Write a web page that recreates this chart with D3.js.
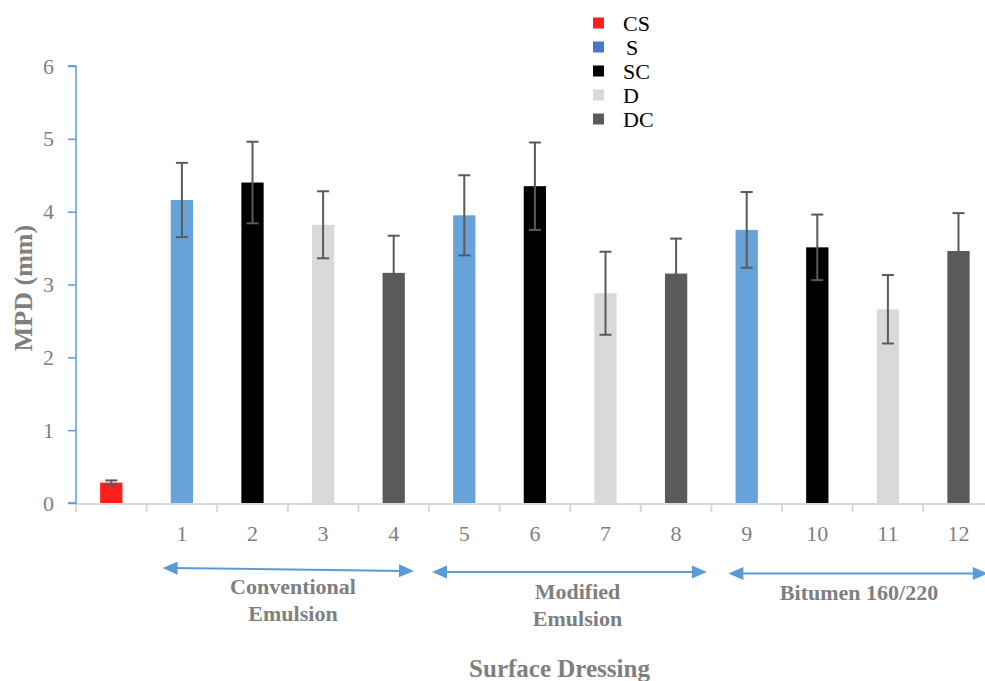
<!DOCTYPE html>
<html>
<head>
<meta charset="utf-8">
<script src="https://cdn.jsdelivr.net/npm/d3@7"></script>
<style>
  body { margin: 0; background: #fff; }
  svg { display: block; }
  svg text { font-family: "Liberation Serif", "Times New Roman", serif; }
</style>
</head>
<body>
<div id="chart"></div>
<script>
// data
const categories = ["", "1", "2", "3", "4", "5", "6", "7", "8", "9", "10", "11", "12"];
const seriesOf = ["CS", "S", "SC", "D", "DC", "S", "SC", "D", "DC", "S", "SC", "D", "DC"];
const mpd = [0.28, 4.16, 4.40, 3.82, 3.16, 3.95, 4.35, 2.88, 3.15, 3.75, 3.51, 2.66, 3.46];
const mpdErr = [0.03, 0.51, 0.56, 0.46, 0.51, 0.55, 0.60, 0.57, 0.48, 0.52, 0.45, 0.47, 0.52];
const yTicks = [0, 1, 2, 3, 4, 5, 6];
const legendKeys = ["CS", "S", "SC", "D", "DC"];
const groupLabels = [["Conventional", "Emulsion"], ["Modified", "Emulsion"], ["Bitumen 160/220"]];
const groupFrom = ["1", "5", "9"];
const groupTo = ["4", "8", "12"];

const barColor = { CS: "#fe1e1e", S: "#67a2d8", SC: "#000000", D: "#d9d9d9", DC: "#5a5a5a" };
const legendColor = { CS: "#fe1e1e", S: "#4a76c6", SC: "#000000", D: "#d9d9d9", DC: "#5a5a5a" };

const W = 985, H = 681;
const svg = d3.select("#chart").append("svg").attr("width", W).attr("height", H);

const x0 = 76, step = 70.6;
const x = d3.scaleBand().domain(categories).range([x0, x0 + step * categories.length]).paddingInner(0).paddingOuter(0);
const y = d3.scaleLinear().domain([0, 6]).range([503, 66]);
const barW = 22.3;

// x axis line + ticks at category boundaries
svg.append("line")
    .attr("x1", x0).attr("x2", W).attr("y1", y(0) + 1).attr("y2", y(0) + 1)
    .attr("stroke", "#d9d9d9").attr("stroke-width", 2);
svg.selectAll(".xtick").data(categories).enter().append("line")
    .attr("x1", d => x(d)).attr("x2", d => x(d))
    .attr("y1", y(0)).attr("y2", y(0) + 9)
    .attr("stroke", "#d9d9d9").attr("stroke-width", 2);
svg.selectAll(".xlab").data(categories).enter().append("text")
    .attr("x", d => x(d) + x.bandwidth() / 2).attr("y", 541)
    .attr("text-anchor", "middle").attr("font-size", 22).attr("fill", "#7f7f7f")
    .text(d => d);

// y axis
const yAxis = svg.append("g").attr("transform", `translate(${x0},0)`)
    .call(d3.axisLeft(y).tickValues(yTicks).tickSize(8).tickPadding(14).tickFormat(d3.format("d")));
yAxis.attr("font-family", null).attr("font-size", null);
yAxis.select(".domain").attr("stroke", "#5b9bd5").attr("stroke-width", 1.5).attr("d", `M-8,${y(6)}H0V${y(0)}H-8`);
yAxis.selectAll(".tick line").attr("stroke", "#5b9bd5").attr("stroke-width", 1.5);
yAxis.selectAll(".tick text").attr("font-size", 22).attr("fill", "#7f7f7f");

// bars
svg.selectAll(".bar").data(categories).enter().append("rect")
    .attr("x", d => x(d) + x.bandwidth() / 2 - barW / 2)
    .attr("width", barW)
    .attr("y", (d, i) => y(mpd[i]))
    .attr("height", (d, i) => y(0) - y(mpd[i]))
    .attr("fill", (d, i) => barColor[seriesOf[i]]);

// error bars
const eb = svg.selectAll(".err").data(categories).enter().append("g")
    .attr("stroke", "#5a5a5a").attr("stroke-width", 2);
eb.append("line")
    .attr("x1", d => x(d) + x.bandwidth() / 2).attr("x2", d => x(d) + x.bandwidth() / 2)
    .attr("y1", (d, i) => y(mpd[i] + mpdErr[i])).attr("y2", (d, i) => y(mpd[i] - mpdErr[i]));
eb.append("line")
    .attr("x1", d => x(d) + x.bandwidth() / 2 - 6).attr("x2", d => x(d) + x.bandwidth() / 2 + 6)
    .attr("y1", (d, i) => y(mpd[i] + mpdErr[i])).attr("y2", (d, i) => y(mpd[i] + mpdErr[i]));
eb.append("line")
    .attr("x1", d => x(d) + x.bandwidth() / 2 - 6).attr("x2", d => x(d) + x.bandwidth() / 2 + 6)
    .attr("y1", (d, i) => y(mpd[i] - mpdErr[i])).attr("y2", (d, i) => y(mpd[i] - mpdErr[i]));

// legend
const leg = svg.selectAll(".leg").data(legendKeys).enter().append("g")
    .attr("transform", (d, i) => `translate(593,${23 + i * 24})`);
leg.append("rect").attr("x", 0).attr("y", -5.5).attr("width", 11).attr("height", 11)
    .attr("fill", d => legendColor[d]);
leg.append("text").attr("x", d => d === "S" ? 33 : 30).attr("y", 7.5)
    .attr("font-size", 22).attr("fill", "#000").text(d => d);

// group arrows under the x labels
const arrowBlue = "#5b9bd5";
const arrowY = [[568, 571], [572, 572], [573.5, 573.5]];
const arrowPad = [[16, 15], [3, 4.5], [17, 6]];
groupFrom.forEach((g, i) => {
    const xa = x(g) + arrowPad[i][0];
    const xb = x(groupTo[i]) + x.bandwidth() - arrowPad[i][1];
    const ya = arrowY[i][0], yb = arrowY[i][1];
    const ang = Math.atan2(yb - ya, xb - xa);
    const hl = 15, hw = 6.5;
    const head = (tx, ty, dir) => {
        const c = Math.cos(ang) * dir, s = Math.sin(ang) * dir;
        const bx = tx - c * hl, by = ty - s * hl;
        return `M${tx},${ty}L${bx - s * hw},${by + c * hw}L${bx + s * hw},${by - c * hw}Z`;
    };
    svg.append("line")
        .attr("x1", xa + Math.cos(ang) * 10).attr("y1", ya + Math.sin(ang) * 10)
        .attr("x2", xb - Math.cos(ang) * 10).attr("y2", yb - Math.sin(ang) * 10)
        .attr("stroke", arrowBlue).attr("stroke-width", 2);
    svg.append("path").attr("d", head(xb, yb, 1)).attr("fill", arrowBlue);
    svg.append("path").attr("d", head(xa, ya, -1)).attr("fill", arrowBlue);
});

// group labels
const labelX = [293, 577.5, 859];
const labelY = [594, 599, 600];
groupLabels.forEach((lines, i) => {
    const t = svg.append("text").attr("text-anchor", "middle")
        .attr("font-size", 22).attr("font-weight", "bold").attr("fill", "#7f7f7f");
    lines.forEach((s, j) => {
        t.append("tspan").attr("x", labelX[i]).attr("y", labelY[i] + j * 26.5).text(s);
    });
});

// axis titles
svg.append("text")
    .attr("transform", "translate(32,288) rotate(-90)")
    .attr("text-anchor", "middle").attr("font-size", 26).attr("font-weight", "bold")
    .attr("fill", "#7f7f7f").text("MPD (mm)");
svg.append("text")
    .attr("x", 559.5).attr("y", 677)
    .attr("text-anchor", "middle").attr("font-size", 25).attr("font-weight", "bold")
    .attr("fill", "#7f7f7f").text("Surface Dressing");
</script>
</body>
</html>
